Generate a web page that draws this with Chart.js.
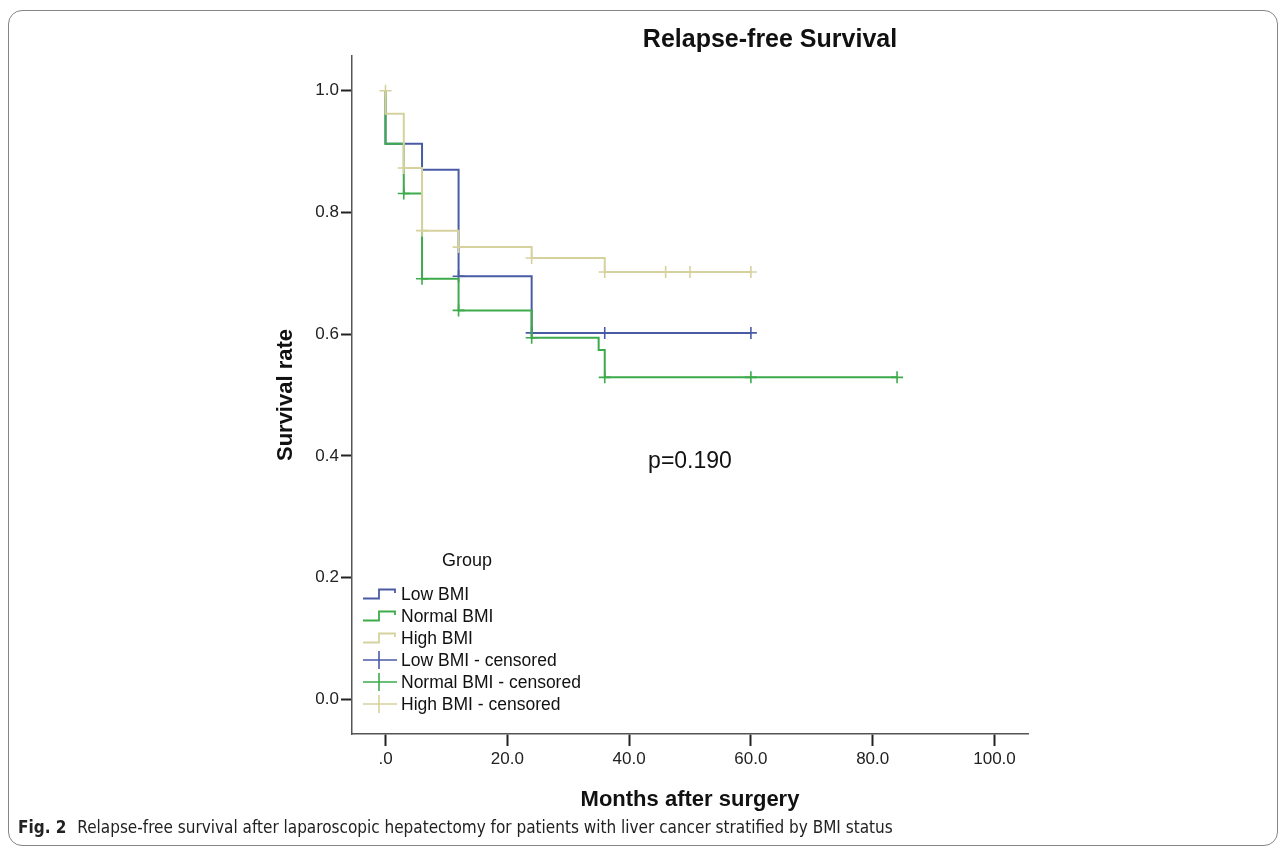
<!DOCTYPE html>
<html>
<head>
<meta charset="utf-8">
<title>Relapse-free Survival</title>
<script src="https://cdn.jsdelivr.net/npm/chart.js@4.4.1/dist/chart.umd.min.js"></script>
<style>
    html, body { margin: 0; padding: 0; background: #fff; }
    body { width: 1284px; height: 852px; position: relative; overflow: hidden; font-family: "Liberation Sans", Arial, sans-serif; color: #111; }
    #frame { position: absolute; left: 8px; top: 10px; width: 1270px; height: 836px; border: 1.5px solid #858585; border-radius: 14px; box-sizing: border-box; }
    #survivalChart { position: absolute; left: 0; top: 0; }
    #chartTitle { position: absolute; left: 570px; top: 23px; width: 400px; text-align: center; font-size: 25px; font-weight: bold; line-height: 30px; white-space: nowrap; }
    #pValue { position: absolute; left: 600px; top: 446px; width: 180px; text-align: center; font-size: 23px; line-height: 28px; }
    #legend { position: absolute; left: 362px; top: 549px; font-size: 17.5px; line-height: 22px; }
    #legend .head { padding-left: 80px; font-size: 18px; margin-bottom: 12px; }
    #legend .row { display: flex; align-items: center; height: 22px; }
    #legend svg { width: 36px; height: 20px; margin-right: 3px; }
    #caption { position: absolute; left: 18px; top: 816px; font-family: "Liberation Sans Narrow", "DejaVu Sans Condensed", "Arial Narrow", sans-serif; font-stretch: condensed; font-size: 17px; line-height: 22px; color: #222; white-space: nowrap; }
    #caption b { margin-right: 6px; }
</style>
</head>
<body>
<div id="frame"></div>
<canvas id="survivalChart" width="1284" height="852"></canvas>
<div id="chartTitle">Relapse-free Survival</div>
<div id="pValue">p=0.190</div>
<div id="legend"></div>
<div id="caption"><b>Fig. 2</b> Relapse-free survival after laparoscopic hepatectomy for patients with liver cancer stratified by BMI status</div>

<script>
// Kaplan-Meier steps (months, survival)
const lowTimes = [0, 0, 6, 12, 24, 60];
const lowSurv = [1.0, 0.913, 0.870, 0.695, 0.602, 0.602];
const normalTimes = [0, 0, 3, 6, 12, 24, 35, 36, 84];
const normalSurv = [1.0, 0.913, 0.831, 0.691, 0.639, 0.594, 0.574, 0.529, 0.529];
const highTimes = [0, 0, 3, 6, 12, 24, 36, 60];
const highSurv = [1.0, 0.962, 0.873, 0.770, 0.743, 0.725, 0.702, 0.702];

// censored cases
const lowCensTimes = [12, 24, 36, 60];
const lowCensSurv = [0.695, 0.602, 0.602, 0.602];
const normalCensTimes = [3, 6, 12, 24, 36, 60, 84];
const normalCensSurv = [0.831, 0.691, 0.639, 0.594, 0.529, 0.529, 0.529];
const highCensTimes = [0, 3, 6, 12, 24, 36, 46, 50, 60];
const highCensSurv = [1.0, 0.873, 0.770, 0.743, 0.725, 0.702, 0.702, 0.702, 0.702];

const groupNames = ["Low BMI", "Normal BMI", "High BMI"];
const groupColors = ["#4a5ba6", "#3dab4b", "#d6d29e"];
// drawing order: High on top, then Normal, then Low
const groupOrder = [2, 1, 0];

const xTicks = [0, 20, 40, 60, 80, 100];
const yTicks = [0, 0.2, 0.4, 0.6, 0.8, 1.0];

const fontFamily = '"Liberation Sans", Arial, sans-serif';

function toPoints(times, surv) {
    return times.map((t, i) => ({ x: t, y: surv[i] }));
}

// step curve dataset
function curve(i, times, surv) {
    return {
        type: "line",
        label: groupNames[i],
        data: toPoints(times, surv),
        borderColor: groupColors[i],
        borderWidth: 2,
        stepped: "before",
        pointRadius: 0,
        fill: false,
        order: groupOrder[i]
    };
}

// censor marks dataset
function censored(i, times, surv) {
    return {
        type: "scatter",
        label: groupNames[i] + " - censored",
        data: toPoints(times, surv),
        showLine: false,
        pointStyle: "cross",
        pointRadius: 6,
        borderColor: groupColors[i],
        backgroundColor: groupColors[i],
        pointBorderWidth: 1.6,
        order: groupOrder[i]
    };
}

const datasets = [
    curve(0, lowTimes, lowSurv),
    curve(1, normalTimes, normalSurv),
    curve(2, highTimes, highSurv),
    censored(0, lowCensTimes, lowCensSurv),
    censored(1, normalCensTimes, normalCensSurv),
    censored(2, highCensTimes, highCensSurv)
];

const ctx = document.getElementById("survivalChart").getContext("2d");
new Chart(ctx, {
    type: "scatter",
    data: { datasets: datasets },
    options: {
        responsive: false,
        animation: false,
        devicePixelRatio: 1,
        layout: { padding: { left: 273, right: 256, top: 56, bottom: 39 } },
        plugins: {
            legend: { display: false },
            tooltip: { enabled: false },
            title: { display: false }
        },
        scales: {
            x: {
                type: "linear",
                min: -5.5,
                max: 105.5,
                afterBuildTicks: scale => { scale.ticks = xTicks.map(v => ({ value: v })); },
                afterFit: scale => { scale.height = 79; },
                grid: { drawOnChartArea: false, drawTicks: true, tickLength: 12, tickColor: "#222", tickWidth: 2 },
                border: { display: true, color: "#555", width: 1.5 },
                ticks: {
                    autoSkip: false,
                    maxRotation: 0,
                    padding: 3,
                    color: "#222",
                    font: { family: fontFamily, size: 17 },
                    callback: v => v === 0 ? ".0" : v.toFixed(1)
                },
                title: {
                    display: true,
                    text: "Months after surgery",
                    color: "#111",
                    padding: 0,
                    font: { family: fontFamily, size: 22, weight: "bold" }
                }
            },
            y: {
                type: "linear",
                min: -0.057,
                max: 1.057,
                afterBuildTicks: scale => { scale.ticks = yTicks.map(v => ({ value: v })); },
                afterFit: scale => { scale.width = 79; },
                grid: { drawOnChartArea: false, drawTicks: true, tickLength: 11, tickColor: "#222", tickWidth: 2 },
                border: { display: true, color: "#555", width: 1.5 },
                ticks: {
                    autoSkip: false,
                    padding: 2,
                    color: "#222",
                    font: { family: fontFamily, size: 17 },
                    callback: v => v.toFixed(1)
                },
                title: {
                    display: true,
                    text: "Survival rate",
                    color: "#111",
                    padding: 0,
                    font: { family: fontFamily, size: 22, weight: "bold" }
                }
            }
        }
    }
});

// legend in the SPSS style: step icons for curves, crosses for censored
function stepIcon(color) {
    return `<svg viewBox="0 0 36 20"><path d="M1 14.5 H17 V5.5 H33 V9" fill="none" stroke="${color}" stroke-width="1.8"/></svg>`;
}
function crossIcon(color) {
    return `<svg viewBox="0 0 36 20"><path d="M1 10 H35 M17 1 V19" fill="none" stroke="${color}" stroke-width="1.6"/></svg>`;
}
let legendHtml = '<div class="head">Group</div>';
groupNames.forEach((name, i) => {
    legendHtml += `<div class="row">${stepIcon(groupColors[i])}<span>${name}</span></div>`;
});
groupNames.forEach((name, i) => {
    legendHtml += `<div class="row">${crossIcon(groupColors[i])}<span>${name} - censored</span></div>`;
});
document.getElementById("legend").innerHTML = legendHtml;
</script>
</body>
</html>
